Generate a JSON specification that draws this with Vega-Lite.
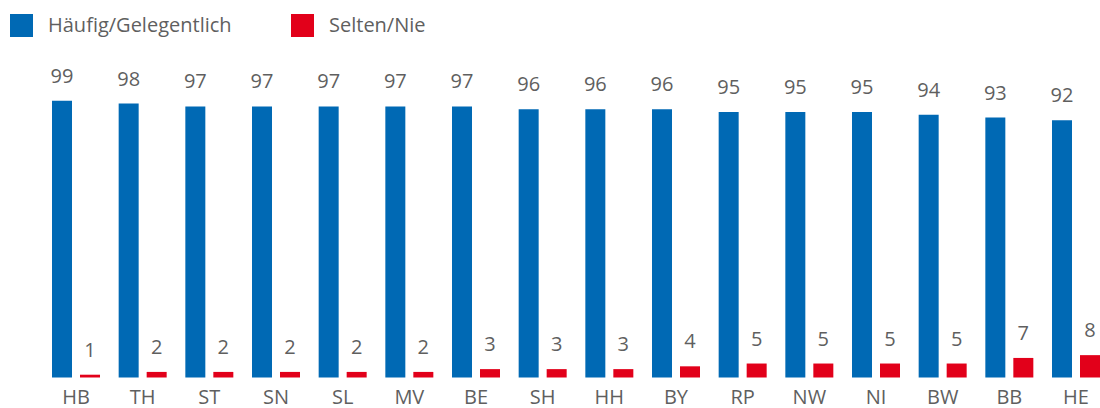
{
  "$schema": "https://vega.github.io/schema/vega-lite/v6.json",
  "width": 1048,
  "height": 279.5,
  "autosize": {"type": "none"},
  "padding": {"left": 52, "top": 98, "right": 0, "bottom": 30.5},
  "config": {
    "view": {"stroke": null},
    "font": "Open Sans",
    "legend": {
      "orient": "none",
      "legendX": -42,
      "legendY": -84,
      "direction": "horizontal",
      "padding": 0,
      "symbolType": "square",
      "symbolSize": 529,
      "symbolStrokeWidth": 0,
      "symbolOpacity": 1,
      "labelFontSize": 20,
      "labelColor": "#5f5f5f",
      "labelOffset": 15,
      "columnPadding": 59,
      "labelLimit": 400
    }
  },
  "data": {
    "values": [
      {"land": "HB", "kat": "Häufig/Gelegentlich", "wert": 99},
      {"land": "HB", "kat": "Selten/Nie", "wert": 1},
      {"land": "TH", "kat": "Häufig/Gelegentlich", "wert": 98},
      {"land": "TH", "kat": "Selten/Nie", "wert": 2},
      {"land": "ST", "kat": "Häufig/Gelegentlich", "wert": 97},
      {"land": "ST", "kat": "Selten/Nie", "wert": 2},
      {"land": "SN", "kat": "Häufig/Gelegentlich", "wert": 97},
      {"land": "SN", "kat": "Selten/Nie", "wert": 2},
      {"land": "SL", "kat": "Häufig/Gelegentlich", "wert": 97},
      {"land": "SL", "kat": "Selten/Nie", "wert": 2},
      {"land": "MV", "kat": "Häufig/Gelegentlich", "wert": 97},
      {"land": "MV", "kat": "Selten/Nie", "wert": 2},
      {"land": "BE", "kat": "Häufig/Gelegentlich", "wert": 97},
      {"land": "BE", "kat": "Selten/Nie", "wert": 3},
      {"land": "SH", "kat": "Häufig/Gelegentlich", "wert": 96},
      {"land": "SH", "kat": "Selten/Nie", "wert": 3},
      {"land": "HH", "kat": "Häufig/Gelegentlich", "wert": 96},
      {"land": "HH", "kat": "Selten/Nie", "wert": 3},
      {"land": "BY", "kat": "Häufig/Gelegentlich", "wert": 96},
      {"land": "BY", "kat": "Selten/Nie", "wert": 4},
      {"land": "RP", "kat": "Häufig/Gelegentlich", "wert": 95},
      {"land": "RP", "kat": "Selten/Nie", "wert": 5},
      {"land": "NW", "kat": "Häufig/Gelegentlich", "wert": 95},
      {"land": "NW", "kat": "Selten/Nie", "wert": 5},
      {"land": "NI", "kat": "Häufig/Gelegentlich", "wert": 95},
      {"land": "NI", "kat": "Selten/Nie", "wert": 5},
      {"land": "BW", "kat": "Häufig/Gelegentlich", "wert": 94},
      {"land": "BW", "kat": "Selten/Nie", "wert": 5},
      {"land": "BB", "kat": "Häufig/Gelegentlich", "wert": 93},
      {"land": "BB", "kat": "Selten/Nie", "wert": 7},
      {"land": "HE", "kat": "Häufig/Gelegentlich", "wert": 92},
      {"land": "HE", "kat": "Selten/Nie", "wert": 8}
    ]
  },
  "encoding": {
    "x": {
      "field": "land",
      "type": "nominal",
      "sort": null,
      "title": null,
      "scale": {"paddingInner": 0.28, "paddingOuter": 0},
      "axis": {
        "domain": false,
        "ticks": false,
        "labelAngle": 0,
        "labelFontSize": 20,
        "labelColor": "#5f5f5f",
        "labelBaseline": "alphabetic",
        "labelPadding": 25.5
      }
    },
    "xOffset": {
      "field": "kat",
      "type": "nominal",
      "sort": ["Häufig/Gelegentlich", "Selten/Nie"],
      "scale": {"paddingInner": 0.2857, "paddingOuter": 0}
    },
    "y": {
      "field": "wert",
      "type": "quantitative",
      "scale": {"domain": [0, 100]},
      "axis": null
    }
  },
  "layer": [
    {
      "mark": {"type": "bar"},
      "encoding": {
        "color": {
          "field": "kat",
          "type": "nominal",
          "sort": ["Häufig/Gelegentlich", "Selten/Nie"],
          "scale": {"domain": ["Häufig/Gelegentlich", "Selten/Nie"], "range": ["#0069b4", "#e2001a"]},
          "legend": {"title": null}
        }
      }
    },
    {
      "mark": {"type": "text", "baseline": "alphabetic", "dy": -18, "fontSize": 20, "color": "#5f5f5f"},
      "encoding": {"text": {"field": "wert", "type": "quantitative"}}
    }
  ]
}
